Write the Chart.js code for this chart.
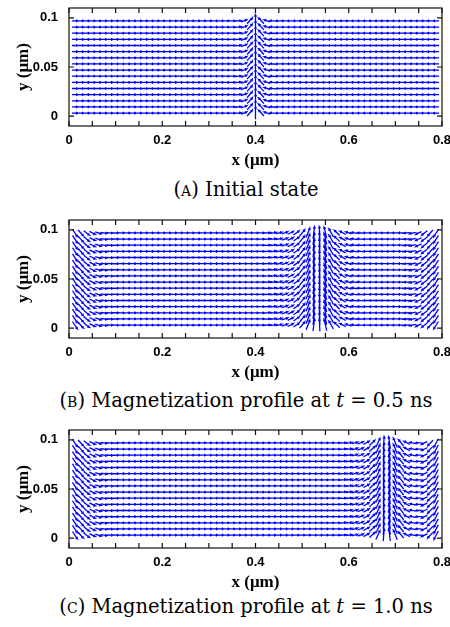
<!DOCTYPE html>
<html>
<head>
<meta charset="utf-8">
<script src="https://cdn.jsdelivr.net/npm/chart.js@4"></script>
<style>
  body { margin: 0; background: #fff; width: 450px; height: 627px; position: relative; overflow: hidden; }
  .panel { position: absolute; left: 0; width: 450px; height: 172px; }
  .cap { position: absolute; left: 0; width: 492px; text-align: center; font-family: "DejaVu Serif", serif; font-size: 19.5px; color: #000; line-height: 1; }
  .sc { font-variant: small-caps; }
</style>
</head>
<body>
<div class="panel" style="top:0px"><canvas id="chartA"></canvas></div>
<div class="cap" style="top:180px">(<span class="sc">a</span>) Initial state</div>
<div class="panel" style="top:212px"><canvas id="chartB"></canvas></div>
<div class="cap" style="top:391px">(<span class="sc">b</span>) Magnetization profile at <i>t</i> = 0.5 ns</div>
<div class="panel" style="top:422px"><canvas id="chartC"></canvas></div>
<div class="cap" style="top:597px">(<span class="sc">c</span>) Magnetization profile at <i>t</i> = 1.0 ns</div>
<script>
// grid of arrow centres (um)
const xs = [0.0125, 0.025, 0.0375, 0.05, 0.0625, 0.075, 0.0875, 0.1, 0.1125, 0.125, 0.1375, 0.15, 0.1625,
  0.175, 0.1875, 0.2, 0.2125, 0.225, 0.2375, 0.25, 0.2625, 0.275, 0.2875, 0.3, 0.3125, 0.325, 0.3375, 0.35,
  0.3625, 0.375, 0.3875, 0.4, 0.4125, 0.425, 0.4375, 0.45, 0.4625, 0.475, 0.4875, 0.5, 0.5125, 0.525, 0.5375,
  0.55, 0.5625, 0.575, 0.5875, 0.6, 0.6125, 0.625, 0.6375, 0.65, 0.6625, 0.675, 0.6875, 0.7, 0.7125, 0.725,
  0.7375, 0.75, 0.7625, 0.775, 0.7875];
const ys = [0.003125, 0.009375, 0.015625, 0.021875, 0.028125, 0.034375, 0.040625, 0.046875, 0.053125,
  0.059375, 0.065625, 0.071875, 0.078125, 0.084375, 0.090625, 0.096875];

// in-plane magnetization angle (deg) for each column
const anglesA = [0, 0, 0, 0, 0, 0, 0, 0, 0, 0, 0, 0, 0, 0, 0, 0, 0, 0, 0, 0, 0, 0, 0, 0, 0, 0, 0, 0,
  3, 10, 28, 90, 152, 170, 177,
  180, 180, 180, 180, 180, 180, 180, 180, 180, 180, 180, 180, 180, 180, 180, 180, 180, 180, 180, 180, 180,
  180, 180, 180, 180, 180, 180, 180];
const anglesB = [-36, -28, -21, -14, -9, -5, -2,
  -1, 0, 0, 0, 0, 0, 0, 0, 0, 0, 0, 0, 0, 0, 0, 0, 0, 0, 0, 0, 0, 0, 0, 0, 0, 0,
  2, 4, 6, 9, 13, 19, 30, 50, 75, 95, 115, 140, 155, 165, 171, 175, 178,
  180, 180, 180, 180, 180, 180, 180,
  182, 186, 192, 200, 208, 216, 224];
const anglesC = [-36, -28, -21, -14, -9, -5, -2,
  -1, 0, 0, 0, 0, 0, 0, 0, 0, 0, 0, 0, 0, 0, 0, 0, 0, 0, 0, 0, 0, 0, 0, 0, 0, 0,
  0, 0, 0, 0, 0, 0, 0, 0, 0, 0, 0, 0, 0,
  2, 4, 7, 10, 15, 24, 45, 80, 105, 130, 150, 165, 174, 180, 192, 206, 222];

const xTicks = [0, 0.05, 0.1, 0.15, 0.2, 0.25, 0.3, 0.35, 0.4, 0.45, 0.5, 0.55, 0.6, 0.65, 0.7, 0.75, 0.8];
const xTickLabels = ["0", "", "", "", "0.2", "", "", "", "0.4", "", "", "", "0.6", "", "", "", "0.8"];
const yTicks = [0, 0.05, 0.1];
const yTickLabels = ["0", "0.05", "0.1"];

const ARROW_LEN = 0.0125;   // um, data units
const HEAD = 2;             // px

const arrows = {
  id: "arrows",
  afterDatasetsDraw(chart) {
    const { ctx, scales: { x, y } } = chart;
    ctx.save();
    ctx.strokeStyle = "#0000ff";
    ctx.lineWidth = 1.3;
    ctx.beginPath();
    for (const p of chart.data.datasets[0].data) {
      const r = p.a * Math.PI / 180;
      const dx = ARROW_LEN / 2 * Math.cos(r), dy = ARROW_LEN / 2 * Math.sin(r);
      const x0 = x.getPixelForValue(p.x - dx), y0 = y.getPixelForValue(p.y - dy);
      const x1 = x.getPixelForValue(p.x + dx), y1 = y.getPixelForValue(p.y + dy);
      const h = Math.atan2(y1 - y0, x1 - x0);
      ctx.moveTo(x0, y0);
      ctx.lineTo(x1, y1);
      ctx.lineTo(x1 - HEAD * Math.cos(h - 0.55), y1 - HEAD * Math.sin(h - 0.55));
      ctx.moveTo(x1, y1);
      ctx.lineTo(x1 - HEAD * Math.cos(h + 0.55), y1 - HEAD * Math.sin(h + 0.55));
    }
    ctx.stroke();
    ctx.restore();
  }
};

const frame = {
  id: "frame",
  afterDraw(chart) {
    const { ctx, chartArea: a, scales: { x, y } } = chart;
    ctx.save();
    ctx.strokeStyle = "#111";
    ctx.lineWidth = 1.2;
    ctx.strokeRect(a.left, a.top, a.right - a.left, a.bottom - a.top);
    ctx.beginPath();
    x.ticks.forEach((t) => {
      const px = x.getPixelForValue(t.value);
      ctx.moveTo(px, a.bottom); ctx.lineTo(px, a.bottom - 5);
      ctx.moveTo(px, a.top); ctx.lineTo(px, a.top + 5);
    });
    y.ticks.forEach((t) => {
      const py = y.getPixelForValue(t.value);
      ctx.moveTo(a.left, py); ctx.lineTo(a.left + 5, py);
      ctx.moveTo(a.right, py); ctx.lineTo(a.right - 5, py);
    });
    ctx.stroke();
    ctx.restore();
  }
};

const tickFont = { family: "Liberation Sans", size: 13, weight: "bold" };
const titleFont = { family: "Liberation Serif", size: 17, weight: "bold" };

function drawField(canvasId, angles) {
  const pts = [];
  ys.forEach((yv) => xs.forEach((xv, i) => pts.push({ x: xv, y: yv, a: angles[i] })));

  new Chart(document.getElementById(canvasId), {
    type: "scatter",
    data: { datasets: [{ data: pts, pointRadius: 0, pointHoverRadius: 0 }] },
    options: {
      responsive: true,
      maintainAspectRatio: false,
      animation: false,
      events: [],
      layout: { padding: { top: 8, right: 8, left: 0, bottom: 0 } },
      plugins: { legend: { display: false }, tooltip: { enabled: false } },
      scales: {
        x: {
          type: "linear", min: 0, max: 0.8,
          afterBuildTicks: (s) => { s.ticks = xTicks.map((v) => ({ value: v })); },
          afterFit: (s) => { s.height = 46; s.paddingLeft = 0; s.paddingRight = 0; },
          grid: { display: false, drawTicks: false },
          border: { display: false },
          ticks: { autoSkip: false, maxRotation: 0, padding: 7, color: "#000", font: tickFont,
            callback: (v, i) => xTickLabels[i] },
          title: { display: true, text: "x (μm)", color: "#000", font: titleFont, padding: { top: 0, bottom: 1 } },
        },
        y: {
          type: "linear", min: -0.01, max: 0.11,
          afterBuildTicks: (s) => { s.ticks = yTicks.map((v) => ({ value: v })); },
          afterFit: (s) => { s.width = 69; s.paddingTop = 0; s.paddingBottom = 0; },
          grid: { display: false, drawTicks: false },
          border: { display: false },
          ticks: { padding: 11, color: "#000", font: tickFont, callback: (v, i) => yTickLabels[i] },
          title: { display: true, text: "y (μm)", color: "#000", font: titleFont, padding: { top: 13, bottom: 0 } },
        },
      },
    },
    plugins: [arrows, frame],
  });
}

drawField("chartA", anglesA);
drawField("chartB", anglesB);
drawField("chartC", anglesC);
</script>
</body>
</html>
